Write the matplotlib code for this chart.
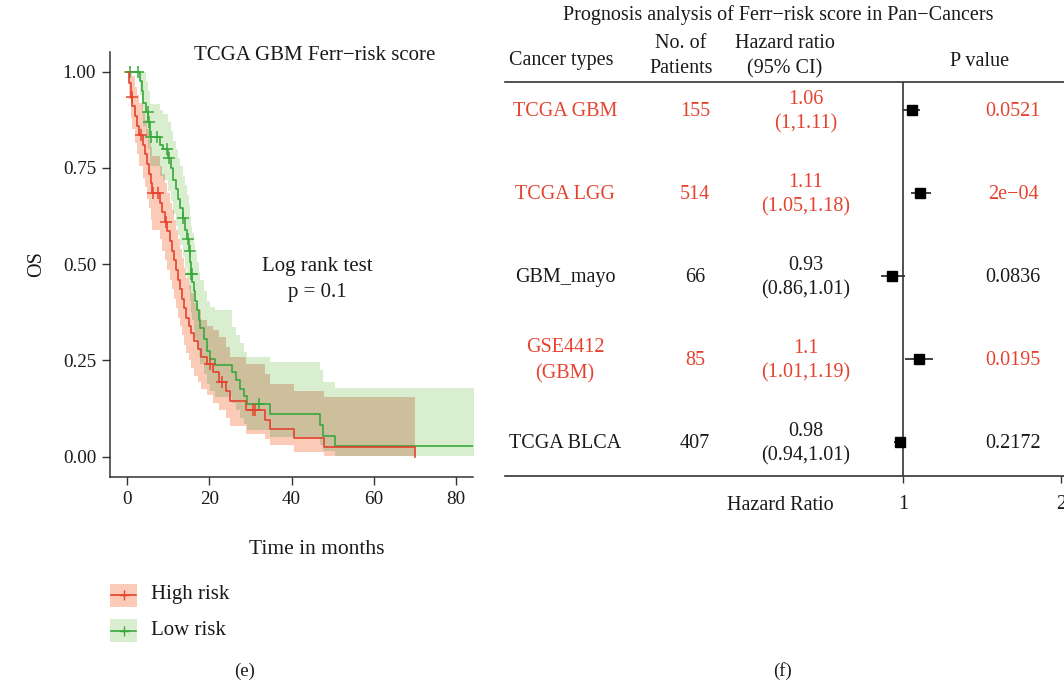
import numpy as np
import matplotlib
matplotlib.use("Agg")
import matplotlib.pyplot as plt
from matplotlib.patches import Rectangle
from matplotlib.lines import Line2D
from matplotlib.transforms import blended_transform_factory

plt.rcParams["font.family"] = ["Liberation Serif", "DejaVu Serif"]

# ---------------- Kaplan-Meier data (months, survival, 95% band) ----------------
high_t = [0.0, 0.5, 1.0, 1.3, 2.0, 2.5, 3.0, 3.8, 4.3, 4.8, 5.3, 5.8, 6.0, 8.0, 8.6,
          9.2, 9.8, 10.5, 11.0, 11.5, 12.0, 12.5, 13.0, 13.4, 13.9, 14.4, 15.0, 15.6,
          16.4, 17.2, 18.0, 19.5, 21.0, 22.3, 24.0, 25.0, 29.0, 33.5, 34.8, 40.7, 48.0, 70.0]
high_s = [1.000, 0.970, 0.935, 0.910, 0.885, 0.860, 0.835, 0.810, 0.785, 0.760, 0.735,
          0.710, 0.685, 0.660, 0.635, 0.610, 0.585, 0.560, 0.535, 0.510, 0.485, 0.460,
          0.435, 0.410, 0.385, 0.360, 0.340, 0.320, 0.300, 0.280, 0.260, 0.242, 0.220,
          0.195, 0.170, 0.145, 0.120, 0.096, 0.072, 0.048, 0.024, 0.000]
high_lo = [1.000, 0.930, 0.880, 0.850, 0.815, 0.785, 0.755, 0.725, 0.700, 0.670, 0.645,
           0.615, 0.590, 0.565, 0.535, 0.510, 0.485, 0.460, 0.435, 0.410, 0.385, 0.360,
           0.340, 0.315, 0.290, 0.270, 0.250, 0.230, 0.210, 0.195, 0.175, 0.160, 0.140,
           0.120, 0.100, 0.080, 0.060, 0.045, 0.030, 0.012, 0.003, 0.003]
high_hi = [1.000, 1.000, 1.000, 0.990, 0.960, 0.940, 0.920, 0.895, 0.875, 0.850, 0.825,
           0.805, 0.780, 0.755, 0.735, 0.710, 0.685, 0.660, 0.640, 0.615, 0.590, 0.565,
           0.540, 0.515, 0.490, 0.465, 0.445, 0.425, 0.400, 0.380, 0.355, 0.340, 0.330,
           0.310, 0.285, 0.260, 0.240, 0.215, 0.190, 0.170, 0.156, 0.156]
high_censor = [1.2, 3.4, 6.4, 7.6, 9.6, 20.2, 23.0, 30.6, 31.2]

low_t = [0.0, 3.2, 3.6, 4.0, 4.6, 5.2, 5.5, 5.7, 8.0, 8.8, 10.0, 10.8, 11.2, 11.8, 12.5,
         13.0, 13.5, 14.0, 14.6, 15.1, 15.4, 15.6, 15.8, 16.2, 16.6, 17.0, 17.4, 17.8,
         18.6, 19.4, 20.2, 21.4, 25.5, 26.5, 27.5, 28.5, 29.1, 34.8, 47.0, 47.6, 50.6, 87.0]
low_s = [1.000, 0.975, 0.950, 0.920, 0.895, 0.870, 0.845, 0.830, 0.810, 0.800, 0.775,
         0.750, 0.720, 0.695, 0.670, 0.645, 0.620, 0.590, 0.565, 0.535, 0.505, 0.475,
         0.455, 0.430, 0.405, 0.380, 0.355, 0.335, 0.305, 0.275, 0.255, 0.237, 0.220,
         0.198, 0.176, 0.157, 0.137, 0.111, 0.081, 0.055, 0.027, 0.027]
low_lo = [1.000, 0.940, 0.900, 0.860, 0.830, 0.800, 0.770, 0.755, 0.730, 0.720, 0.690,
          0.665, 0.630, 0.600, 0.575, 0.550, 0.520, 0.490, 0.465, 0.435, 0.405, 0.375,
          0.355, 0.330, 0.305, 0.285, 0.260, 0.240, 0.215, 0.190, 0.170, 0.155, 0.140,
          0.120, 0.100, 0.085, 0.070, 0.050, 0.030, 0.015, 0.003, 0.003]
low_hi = [1.000, 1.000, 1.000, 1.000, 0.975, 0.950, 0.930, 0.915, 0.900, 0.890, 0.870,
          0.845, 0.820, 0.800, 0.775, 0.755, 0.730, 0.705, 0.680, 0.655, 0.625, 0.600,
          0.580, 0.555, 0.530, 0.505, 0.480, 0.460, 0.430, 0.405, 0.390, 0.380, 0.337,
          0.315, 0.295, 0.272, 0.260, 0.246, 0.224, 0.195, 0.179, 0.179]
low_censor = [0.7, 2.7, 5.1, 5.35, 5.8, 7.3, 9.7, 10.3, 13.7, 14.9, 15.3, 15.65, 15.75, 32.0]

km_xticks = [0, 20, 40, 60, 80]
km_yticks = [0.00, 0.25, 0.50, 0.75, 1.00]

# ---------------- Forest plot data ----------------
cancer_types = ["TCGA GBM", "TCGA LGG", "GBM_mayo", "GSE4412\n(GBM)", "TCGA BLCA"]
n_patients = [155, 514, 66, 85, 407]
hr = [1.06, 1.11, 0.93, 1.10, 0.98]
ci_low = [1.00, 1.05, 0.86, 1.01, 0.94]
ci_high = [1.11, 1.18, 1.01, 1.19, 1.01]
hr_text = ["1.06\n(1,1.11)", "1.11\n(1.05,1.18)", "0.93\n(0.86,1.01)",
           "1.1\n(1.01,1.19)", "0.98\n(0.94,1.01)"]
p_text = ["0.0521", "2e\u221204", "0.0836", "0.0195", "0.2172"]

RED = "#E5432F"
GREEN = "#38A83C"
RED_BAND = "#FCCBB8"
GREEN_BAND = "#D9EDCF"
OVERLAP = "#CDBF9C"
INK = "#1A1A1A"

W, H = 1064, 684
fig = plt.figure(figsize=(W / 100, H / 100), dpi=100)


def fx(px):
    return px / W


def fy(py):
    return 1 - py / H


def step_eval(t, v, grid):
    t = np.asarray(t)
    v = np.asarray(v)
    idx = np.searchsorted(t, grid, side="right") - 1
    return v[np.clip(idx, 0, len(v) - 1)]


# ---------------- Kaplan-Meier panel ----------------
ax = fig.add_axes([fx(110), fy(476.7), fx(473) - fx(110), fy(51.7) - fy(476.7)])
ax.set_xlim(-4.13, 84.1)
ax.set_ylim(-0.052, 1.052)

ax.fill_between(high_t, high_lo, high_hi, step="post", color=RED_BAND, lw=0, zorder=1)
ax.fill_between(low_t, low_lo, low_hi, step="post", color=GREEN_BAND, lw=0, zorder=1.1)

# region where both confidence bands overlap
grid = np.unique(np.concatenate([high_t, low_t]))
grid = grid[grid <= high_t[-1]]
ov_lo = np.maximum(step_eval(high_t, high_lo, grid), step_eval(low_t, low_lo, grid))
ov_hi = np.minimum(step_eval(high_t, high_hi, grid), step_eval(low_t, low_hi, grid))
ov_hi = np.maximum(ov_hi, ov_lo)
ax.fill_between(grid, ov_lo, ov_hi, step="post", color=OVERLAP, lw=0, zorder=1.2)

ax.plot(low_t, low_s, drawstyle="steps-post", color=GREEN, lw=1.2, zorder=3)
ax.plot(high_t, high_s, drawstyle="steps-post", color=RED, lw=1.2, zorder=3.1)
ax.plot(low_censor, step_eval(low_t, low_s, low_censor), ls="none", marker="+",
        ms=8.5, mew=1.1, color=GREEN, zorder=3)
ax.plot(high_censor, step_eval(high_t, high_s, high_censor), ls="none", marker="+",
        ms=8.5, mew=1.1, color=RED, zorder=3.1)

ax.set_xticks(km_xticks)
ax.set_yticks(km_yticks)
ax.set_yticklabels([f"{v:.2f}" for v in km_yticks])
for side in ("top", "right"):
    ax.spines[side].set_visible(False)
for side in ("left", "bottom"):
    ax.spines[side].set_linewidth(1.1)
    ax.spines[side].set_color("#333333")
ax.tick_params(direction="out", length=6, width=1.0, color="#333333",
               labelsize=13.8, labelcolor=INK, pad=4)
ax.set_ylabel("OS", fontsize=14.5, color=INK, labelpad=12)

fig.text(fx(315), fy(55), "TCGA GBM Ferr\u2212risk score", ha="center", va="center",
         fontsize=15, color=INK)
fig.text(fx(317), fy(267), "Log rank test", ha="center", va="center", fontsize=15, color=INK)
fig.text(fx(317), fy(293), "p = 0.1", ha="center", va="center", fontsize=15, color=INK)
fig.text(fx(317), fy(550), "Time in months", ha="center", va="center", fontsize=15.5, color=INK)

# legend
for ycen, band, col, lab in [(595, RED_BAND, RED, "High risk"),
                             (630.5, GREEN_BAND, GREEN, "Low risk")]:
    fig.add_artist(Rectangle((fx(110), fy(ycen + 11.5)), fx(137) - fx(110), fy(ycen - 11.5) - fy(ycen + 11.5),
                             transform=fig.transFigure, facecolor=band, edgecolor="none"))
    fig.add_artist(Line2D([fx(111), fx(136)], [fy(ycen), fy(ycen)], transform=fig.transFigure,
                          color=col, lw=1.2))
    fig.add_artist(Line2D([fx(123.5)], [fy(ycen)], transform=fig.transFigure, color=col,
                          marker="+", ms=7, mew=1.0, ls="none"))
    fig.text(fx(151), fy(ycen), lab, ha="left", va="center", fontsize=15, color=INK)

fig.text(fx(245), fy(671), "(e)", ha="center", va="center", fontsize=13.5, color=INK)

# ---------------- Forest panel ----------------
ax2 = fig.add_axes([fx(505), fy(476), fx(1064) - fx(505), fy(82) - fy(476)])
ax2.set_xlim(1 - (903 - 505) / 158, 1 + (1064 - 903) / 158)
ax2.set_ylim((476 - 110) / 83, (82 - 110) / 83)
ax2.patch.set_visible(False)
for side in ("left", "right"):
    ax2.spines[side].set_visible(False)
for side in ("top", "bottom"):
    ax2.spines[side].set_linewidth(1.2)
    ax2.spines[side].set_color("#333333")
ax2.set_yticks([])
ax2.set_xticks([1, 2])
ax2.set_xticklabels(["1", "2"])
ax2.tick_params(axis="x", direction="out", length=5, width=1.0, color="#333333",
                labelsize=14.5, labelcolor=INK, pad=9)
ax2.axvline(1, color="#333333", lw=1.2, zorder=1)

rows = np.arange(len(hr))
ax2.hlines(rows, ci_low, ci_high, color="#333333", lw=1.3, zorder=2)
ax2.plot(hr, rows, ls="none", marker="s", ms=7, color="black", zorder=3)

tr = blended_transform_factory(fig.transFigure, ax2.transData)
for i in rows:
    col = RED if ci_low[i] >= 1 else INK
    kw = dict(transform=tr, ha="center", va="center", fontsize=14.5, color=col)
    ax2.text(fx(565), i + 0.02, cancer_types[i], linespacing=1.45, **kw)
    ax2.text(fx(695), i + 0.02, str(n_patients[i]), **kw)
    ax2.text(fx(806), i + 0.02, hr_text[i], linespacing=1.32, **kw)
    ax2.text(fx(1013), i + 0.02, p_text[i], **kw)

hk = dict(ha="center", va="center", fontsize=14.5, color=INK)
fig.text(fx(778), fy(15), "Prognosis analysis of Ferr\u2212risk score in Pan\u2212Cancers", **hk)
fig.text(fx(561), fy(61), "Cancer types", **hk)
fig.text(fx(681), fy(56), "No. of\nPatients", linespacing=1.45, **hk)
fig.text(fx(785), fy(56), "Hazard ratio\n(95% CI)", linespacing=1.45, **hk)
fig.text(fx(980), fy(61), "P value", **hk)
fig.text(fx(780), fy(505), "Hazard Ratio", **hk)
fig.text(fx(783), fy(671), "(f)", ha="center", va="center", fontsize=13.5, color=INK)

fig.savefig("out.png", dpi=100)
